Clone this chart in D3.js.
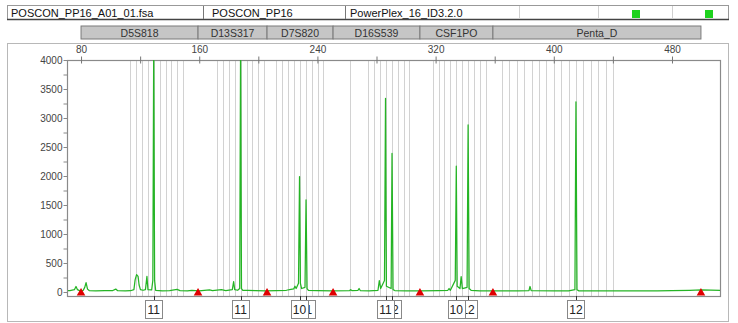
<!DOCTYPE html>
<html>
<head>
<meta charset="utf-8">
<script src="https://cdn.jsdelivr.net/npm/d3@7"></script>
<style>
  body { margin: 0; background: #fff; }
  text { font-family: "Liberation Sans", Arial, sans-serif; }
</style>
</head>
<body>
<svg id="chart" width="738" height="323"></svg>
<script>
// header cells of the electropherogram panel
const headerCells = ['POSCON_PP16_A01_01.fsa', 'POSCON_PP16', 'PowerPlex_16_ID3.2.0'];

// loci (bp ranges)
const lociNames = ['D5S818', 'D13S317', 'D7S820', 'D16S539', 'CSF1PO', 'Penta_D'];
const lociEdges = [80, 159.2, 205.9, 250.6, 309.4, 358.8, 499.6];

// ladder bins (bp) per locus
const binsD5S818 = [113.2, 117.2, 121.2, 125.2, 129.2, 133.2, 137.2, 141.2, 145.2, 149.2];
const binsD13S317 = [172, 176, 180, 184, 188, 192, 196, 200, 204];
const binsD7S820 = [211.9, 215.9, 219.9, 223.9, 227.9, 232.3, 236.2, 240.1, 244];
const binsD16S539 = [262.1, 274.1, 278.1, 282.1, 286.1, 290.5, 294.4, 298.3, 302.2];
const binsCSF1PO = [318, 322, 326, 330, 334, 338, 342, 346, 350, 354];
const binsPentaD = [365, 370, 375, 380, 385, 390, 395, 400, 405, 410, 415, 420, 425, 430, 435, 440];

// allele calls
const callSizes = [129.2, 188, 227.9, 232.3, 286.1, 290.5, 334, 342, 415];
const callLabels = ['11', '11', '10', '11', '11', '12', '10', '12', '12'];

// axis ticks
const xTicks = [80, 160, 240, 320, 400, 480];
const yTicks = [0, 500, 1000, 1500, 2000, 2500, 3000, 3500, 4000];

// green dye trace [size bp, RFU]
const trace = [
  [70.5, 20], [72.5, 25], [75.5, 40], [76.6, 95], [77.6, 40], [79.3, 20], [81.5, 30], [82.5, 80],
  [83.4, 160], [84.4, 50], [85.5, 25], [90, 20], [96, 22], [101.5, 25], [103.5, 50], [104.8, 22],
  [110, 20], [113.5, 22], [115.8, 40], [116.6, 210], [117.6, 300], [118.6, 270], [119.3, 120],
  [120.2, 40], [122, 30], [123.6, 40], [124.6, 270], [125.3, 40], [127.8, 35], [128.6, 200],
  [129.2, 4300], [129.8, 200], [130.5, 30], [135, 20], [140, 25], [145, 45], [147, 25], [152, 20],
  [155, 30], [160, 20], [167, 35], [169, 25], [175, 40], [178, 25], [182.4, 40], [183.3, 180],
  [184, 40], [186, 30], [187.4, 60], [188, 4300], [188.6, 60], [189.5, 30], [193, 30], [198, 25],
  [205, 20], [212, 25], [219, 30], [222, 45], [224, 55], [224.8, 100], [225.6, 60], [227.2, 150],
  [227.9, 1990], [228.5, 150], [229.3, 60], [231.6, 80], [232.3, 1590], [233, 60], [233.9, 30],
  [240, 25], [250, 20], [261.8, 25], [262.5, 40], [263.3, 25], [267.5, 30], [268.2, 60], [269, 25],
  [275, 20], [281, 30], [281.9, 195], [282.8, 60], [285.4, 200], [286.1, 3340], [286.7, 100],
  [289.9, 60], [290.5, 2390], [291.2, 40], [292.4, 25], [300, 20], [310, 20], [322, 25], [328.3, 30],
  [329.1, 60], [330, 30], [333.3, 200], [334, 2170], [334.6, 100], [336.5, 60], [337.3, 265],
  [338.1, 60], [341.3, 80], [342, 2880], [342.7, 60], [344, 30], [350, 20], [360, 18], [376, 20],
  [383.2, 25], [383.9, 95], [384.7, 25], [400, 20], [410, 20], [414.3, 40], [415, 3280], [415.7, 40],
  [417, 20], [440, 18], [470, 18], [480, 22], [492, 30], [500, 35], [512.5, 30]
];

const svg = d3.select('#chart');

const plot = { left: 67, right: 720, top: 60, bottom: 296 };
const x = d3.scaleLinear().domain([70.5, 512.5]).range([plot.left, plot.right]);
const y = d3.scaleLinear().domain([0, 4000]).range([292, plot.top]);

// outer panel
svg.append('rect')
  .attr('x', 7.5).attr('y', 43.5).attr('width', 721).attr('height', 278)
  .attr('fill', 'none').attr('stroke', '#b8b8b8');

// header strip
const header = svg.append('g');
header.append('rect')
  .attr('x', 7.5).attr('y', 5.5).attr('width', 721).attr('height', 14)
  .attr('fill', '#fff').attr('stroke', '#999');
header.append('line')
  .attr('x1', 7).attr('x2', 729).attr('y1', 19.5).attr('y2', 19.5)
  .attr('stroke', '#444').attr('stroke-width', 1.5);
[203, 345].forEach(d => header.append('line')
  .attr('x1', d + 0.5).attr('x2', d + 0.5).attr('y1', 6).attr('y2', 19)
  .attr('stroke', '#777'));
[519, 598, 672].forEach(d => header.append('line')
  .attr('x1', d + 0.5).attr('x2', d + 0.5).attr('y1', 6).attr('y2', 19)
  .attr('stroke', '#d0d0d0'));
header.selectAll('text.cell')
  .data(headerCells)
  .join('text')
  .attr('class', 'cell')
  .attr('x', (d, i) => [11, 212, 350][i])
  .attr('y', 16.5)
  .attr('font-size', 11)
  .attr('fill', '#111')
  .text(d => d);
[632, 705].forEach(d => header.append('rect')
  .attr('x', d).attr('y', 10).attr('width', 8).attr('height', 8)
  .attr('fill', '#1ed21e'));

// locus bar
const loci = lociNames.map((name, i) => ({ name, start: lociEdges[i], end: lociEdges[i + 1] }));
const locusG = svg.append('g');
locusG.selectAll('rect')
  .data(loci)
  .join('rect')
  .attr('x', d => x(d.start))
  .attr('y', 26)
  .attr('width', d => x(d.end) - x(d.start))
  .attr('height', 13)
  .attr('fill', '#c6c6c6')
  .attr('stroke', '#7a7a7a')
  .attr('stroke-width', 1);
locusG.selectAll('text')
  .data(loci)
  .join('text')
  .attr('x', d => (x(d.start) + x(d.end)) / 2)
  .attr('y', 36.5)
  .attr('text-anchor', 'middle')
  .attr('font-size', 10.5)
  .attr('fill', '#333')
  .text(d => d.name);

// bin lines
const allBins = [].concat(binsD5S818, binsD13S317, binsD7S820, binsD16S539, binsCSF1PO, binsPentaD);
svg.append('g')
  .selectAll('line')
  .data(allBins)
  .join('line')
  .attr('x1', d => Math.round(x(d)) + 0.5)
  .attr('x2', d => Math.round(x(d)) + 0.5)
  .attr('y1', plot.top)
  .attr('y2', plot.bottom)
  .attr('stroke', '#d2d2d2')
  .attr('stroke-width', 1);

// plot frame
svg.append('rect')
  .attr('x', plot.left + 0.5).attr('y', plot.top + 0.5)
  .attr('width', plot.right - plot.left).attr('height', plot.bottom - plot.top)
  .attr('fill', 'none').attr('stroke', '#8a8a8a').attr('stroke-width', 1.2);

// top axis
const topAxis = d3.axisTop(x)
  .tickValues(d3.range(80, 481, 40))
  .tickSize(4)
  .tickFormat(d => xTicks.includes(d) ? d : '');
const gx = svg.append('g')
  .attr('transform', `translate(0,${plot.top + 0.5})`)
  .call(topAxis);
gx.select('.domain').remove();
gx.selectAll('.tick line').attr('stroke', '#777').attr('y2', 3).attr('y1', -4);
gx.selectAll('.tick text')
  .attr('font-size', 10)
  .attr('font-family', '"Liberation Sans", Arial, sans-serif')
  .attr('fill', '#444')
  .attr('dy', '-1');

// left axis
const leftAxis = d3.axisLeft(y)
  .tickValues(d3.range(0, 4001, 250))
  .tickSize(4)
  .tickFormat(d => yTicks.includes(d) ? d : '');
const gy = svg.append('g')
  .attr('transform', `translate(${plot.left + 0.5},0)`)
  .call(leftAxis);
gy.select('.domain').remove();
gy.selectAll('.tick line').attr('stroke', '#888');
gy.selectAll('.tick text')
  .attr('font-size', 10)
  .attr('font-family', '"Liberation Sans", Arial, sans-serif')
  .attr('fill', '#444')
  .attr('x', -5);

// trace
svg.append('clipPath').attr('id', 'clip')
  .append('rect')
  .attr('x', plot.left + 1).attr('y', plot.top)
  .attr('width', plot.right - plot.left - 1).attr('height', plot.bottom - plot.top);
const line = d3.line().x(d => x(d[0])).y(d => y(d[1]));
svg.append('path')
  .datum(trace)
  .attr('clip-path', 'url(#clip)')
  .attr('d', line)
  .attr('fill', 'none')
  .attr('stroke', '#25b425')
  .attr('stroke-width', 1.25)
  .attr('stroke-linejoin', 'round');

// locus edge markers
svg.append('g')
  .selectAll('path')
  .data(lociEdges)
  .join('path')
  .attr('transform', d => `translate(${x(d)},${plot.bottom - 3})`)
  .attr('d', d3.symbol(d3.symbolTriangle, 32))
  .attr('fill', '#e00000');

// allele call labels (first ones drawn on top)
const calls = callSizes.map((s, i) => ({ s, label: callLabels[i] }));
const callG = svg.append('g');
const boxW = 17;
calls.slice().reverse().forEach(d => {
  const cx = x(d.s);
  const g = callG.append('g');
  g.append('line')
    .attr('x1', Math.round(cx) + 0.5).attr('x2', Math.round(cx) + 0.5)
    .attr('y1', plot.bottom).attr('y2', 301)
    .attr('stroke', '#333');
  g.append('rect')
    .attr('x', Math.round(cx - boxW / 2) + 0.5).attr('y', 300.5)
    .attr('width', boxW).attr('height', 18)
    .attr('fill', '#fff').attr('stroke', '#888');
  g.append('text')
    .attr('x', cx).attr('y', 314)
    .attr('text-anchor', 'middle')
    .attr('font-size', 12)
    .attr('fill', '#222')
    .text(d.label);
});
</script>
</body>
</html>
